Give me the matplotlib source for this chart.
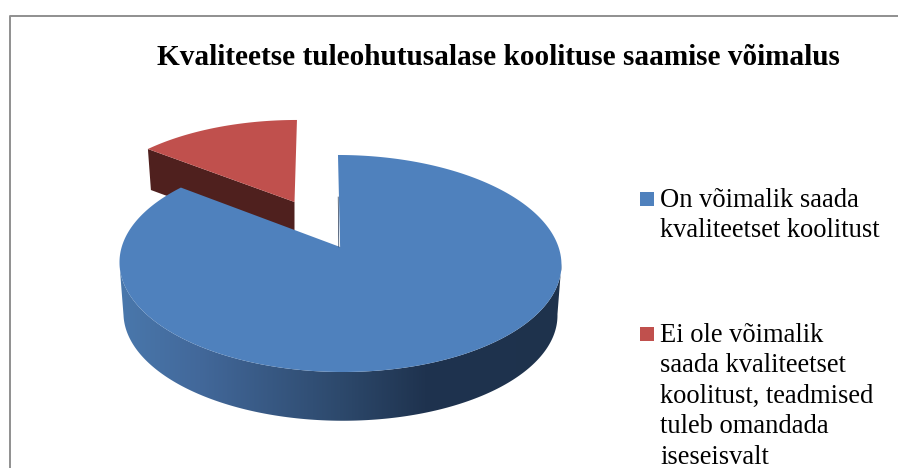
import numpy as np
import matplotlib
matplotlib.use('Agg')
import matplotlib.pyplot as plt
from matplotlib.patches import Polygon, Rectangle

title = 'Kvaliteetse tuleohutusalase koolituse saamise võimalus'
labels = ['On võimalik saada\nkvaliteetset koolitust',
          'Ei ole võimalik\nsaada kvaliteetset\nkoolitust, teadmised\ntuleb omandada\niseseisvalt']
values = [85.5, 14.5]
colors = ['#4f81bd', '#c0504d']

plt.rcParams['font.family'] = ['Liberation Serif', 'DejaVu Serif']

# perspective of the tilted pie, in pixels
k = 0.152


def project(theta, cx, cy, bx, by, shear=-0.023):
    # theta is clockwise from twelve o'clock
    u, v = np.sin(theta), np.cos(theta)
    w = 1 + k * v
    X, Y = bx * u / w, by * v / w
    return cx + X + shear * Y, cy - Y


fig = plt.figure(figsize=(8.98, 4.68), dpi=100)
ax = fig.add_axes([0, 0, 1, 1])
ax.axis('off')

# chart frame, only top and left are in the picture
ax.plot([9.5, 9.5, 898], [468, 15.5, 15.5], color='#8f8f8f', lw=1.4)

sweep = [v / sum(values) * 2 * np.pi for v in values]
blue_t = np.linspace(0, sweep[0], 400)
red_t = np.linspace(sweep[0], 2 * np.pi, 80)

# red slice, pulled out
rx, ry, rb, ra = 294.5, 202, 205, 94.5
red_x, red_y = project(red_t, rx, ry, rb, ra, shear=0.03)
ax.fill([red_x[0], rx, rx, red_x[0] + 3], [red_y[0], ry, ry + 41, red_y[0] + 41], color='#4f201e', lw=0)
ax.fill(np.r_[rx, red_x], np.r_[ry, red_y], color=colors[1], lw=0)

# blue slice, side wall with a left to right shade then the top
cx, cy, bx, by = 340.1, 247, 218.4, 106
tx, ty = project(blue_t, cx, cy, bx, by)
lx, ly = project(blue_t, cx, cy + 51, bx * 0.982, by * 0.982)
front = np.cos(blue_t) < -k  # the widest points of the ellipse sit at v = -k
wall = Polygon(np.c_[np.r_[tx[front], lx[front][::-1]], np.r_[ty[front], ly[front][::-1]]],
               transform=ax.transData, fc='none', lw=0)
ax.add_patch(wall)
stop_x = [119, 200, 340, 425, 562]
stop_rgb = np.array([[74, 120, 172], [66, 104, 154], [45, 73, 108], [31, 51, 79], [30, 50, 76]]) / 255
grad_x = np.linspace(110, 570, 460)
grad = np.stack([np.interp(grad_x, stop_x, stop_rgb[:, c]) for c in range(3)], axis=-1)[None, :, :]
im = ax.imshow(grad, extent=[110, 570, 430, 250], aspect='auto', interpolation='nearest')
im.set_clip_path(wall)
ax.fill(np.r_[cx, tx], np.r_[cy, ty], color=colors[0], lw=0)
# thin dark sliver along the cut edge
ax.plot([cx - 1.3, cx - 1.9], [cy, cy - 50], color='#1f3350', lw=0.5)

ax.set_xlim(0, 898)
ax.set_ylim(468, 0)

ax.text(498.5, 65, title, fontsize=21.1, fontweight='bold', ha='center', va='baseline', color='black')

# legend
rows = [206.7, 341.7]
box_top = [192, 327]
for label, col, base, top in zip(labels, colors, rows, box_top):
    ax.add_patch(Rectangle((640, top), 14, 14, color=col, lw=0))
    for i, line in enumerate(label.split('\n')):
        ax.text(660, base + 30.5 * i, line, fontsize=19.1, va='baseline', color='black')

fig.savefig('out.png', dpi=100)
